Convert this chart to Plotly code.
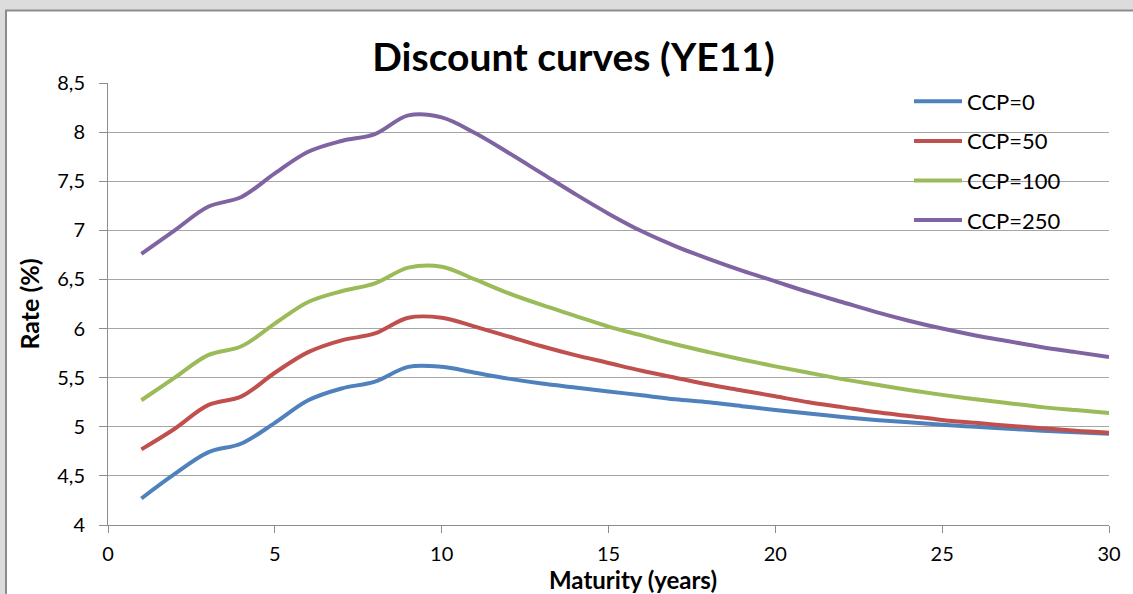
import plotly.graph_objects as go

maturity = list(range(1, 31))
ccp0 = [4.27, 4.52, 4.74, 4.83, 5.04, 5.27, 5.39, 5.46, 5.61, 5.61, 5.55, 5.49, 5.44, 5.40, 5.36,
        5.32, 5.28, 5.25, 5.21, 5.17, 5.135, 5.10, 5.07, 5.045, 5.02, 5.00, 4.98, 4.96, 4.945, 4.93]
ccp50 = [4.77, 4.98, 5.22, 5.31, 5.55, 5.76, 5.88, 5.95, 6.11, 6.11, 6.02, 5.92, 5.82, 5.73, 5.65,
         5.57, 5.50, 5.43, 5.37, 5.31, 5.25, 5.20, 5.15, 5.11, 5.07, 5.04, 5.01, 4.985, 4.96, 4.94]
ccp100 = [5.27, 5.50, 5.73, 5.82, 6.05, 6.27, 6.38, 6.46, 6.62, 6.63, 6.50, 6.36, 6.24, 6.13, 6.02,
          5.93, 5.84, 5.76, 5.685, 5.615, 5.55, 5.485, 5.43, 5.375, 5.325, 5.28, 5.24, 5.20, 5.17, 5.14]
ccp250 = [6.76, 7.00, 7.24, 7.34, 7.58, 7.80, 7.91, 7.98, 8.17, 8.15, 7.99, 7.79, 7.58, 7.37, 7.17,
          6.99, 6.84, 6.71, 6.59, 6.48, 6.37, 6.27, 6.17, 6.08, 6.00, 5.93, 5.87, 5.81, 5.76, 5.71]

series_names = ["CCP=0", "CCP=50", "CCP=100", "CCP=250"]
series_values = [ccp0, ccp50, ccp100, ccp250]
colors = ["#4F81BD", "#C0504D", "#9BBB59", "#8064A2"]

W, H = 1133, 594
L, R, T, B = 108, 24, 82.5, 69
pw, ph = W - L - R, H - T - B


def px_x(x):
    return (x - L) / pw


def px_y(y):
    return (H - B - y) / ph


fig = go.Figure()
for name, vals, col in zip(series_names, series_values, colors):
    fig.add_trace(go.Scatter(
        x=maturity, y=vals, name=name, mode="lines", legendgroup=name,
        line=dict(color=col, width=4, shape="spline", smoothing=1.0),
    ))

FONT = "Lato, 'Open Sans', sans-serif"

fig.update_layout(
    width=W, height=H,
    margin=dict(l=L, r=R, t=T, b=B, autoexpand=False),
    paper_bgcolor="#dcdcdc",
    plot_bgcolor="white",
    separators=",.",
    font=dict(family=FONT, color="#000000", size=20),
    title=dict(text="<b>Discount curves (YE11)</b>", font=dict(family=FONT, size=39, color="black"),
               x=573.5 / W, xanchor="center", xref="container", y=1 - 57 / H, yanchor="middle"),
    showlegend=True,
    legend=dict(x=px_x(909), xanchor="left", y=px_y(80), yanchor="top",
                bgcolor="rgba(0,0,0,0)", font=dict(size=22, family=FONT),
                tracegroupgap=8, traceorder="grouped", itemwidth=48),
    shapes=[dict(type="rect", xref="paper", yref="paper", layer="below",
                 x0=px_x(6), x1=px_x(1145), y0=px_y(605), y1=px_y(10),
                 fillcolor="white", line=dict(color="#8c8c8c", width=2))],
    annotations=[dict(text="<b>Maturity (years)</b>", xref="paper", yref="paper",
                      x=px_x(633), y=px_y(580), xanchor="center", yanchor="middle",
                      showarrow=False, font=dict(size=24, family=FONT, color="black"))],
    xaxis=dict(range=[0, 30], dtick=5, tick0=0, showgrid=False, zeroline=False,
               showline=True, linecolor="#8c8c8c", linewidth=1,
               ticks="outside", ticklen=7, tickcolor="#8c8c8c",
               ticklabelstandoff=4,
               tickfont=dict(size=20, family=FONT)),
    yaxis=dict(range=[4, 8.5], dtick=0.5, tick0=4, showgrid=True, gridcolor="#a6a6a6", gridwidth=1,
               zeroline=False, showline=True, linecolor="#8c8c8c", linewidth=1,
               ticks="outside", ticklen=8, tickcolor="#8c8c8c",
               ticklabelstandoff=10,
               tickfont=dict(size=20, family=FONT),
               title=dict(text="<b>Rate (%)</b>", font=dict(size=25, family=FONT), standoff=10)),
)

fig.write_html("out.html", config={"displayModeBar": False},
               post_script="document.body.style.margin='0';document.body.style.overflow='hidden';")
